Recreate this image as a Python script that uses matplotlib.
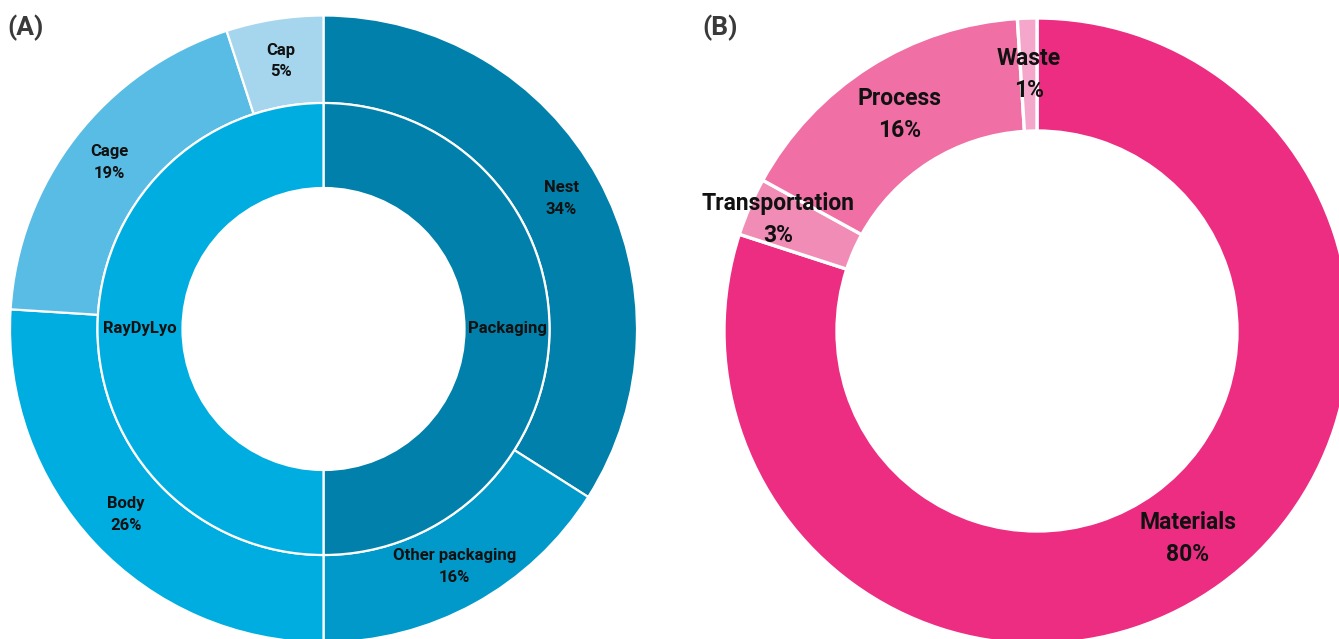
import matplotlib.pyplot as plt
import numpy as np

plt.rcParams['font.family'] = ['Roboto', 'DejaVu Sans']

# (A) inner and outer rings
inner_labels = ['Packaging', 'RayDyLyo']
inner_values = [50, 50]
inner_colors = ['#0080aa', '#00ade0']

outer_labels = ['Nest', 'Other packaging', 'Body', 'Cage', 'Cap']
outer_values = [34, 16, 26, 19, 5]
outer_colors = ['#0080aa', '#0099c9', '#00ade0', '#58bce5', '#a6d6ee']

# (B) single ring
b_labels = ['Materials', 'Transportation', 'Process', 'Waste']
b_values = [80, 3, 16, 1]
b_colors = ['#ec2d82', '#f18cb6', '#f06fa5', '#f4a7ca']

W, H = 1339, 639
fig = plt.figure(figsize=(W / 100, H / 100), dpi=100)


def add_axes_px(cx, cy, r):
    # axes sized so that radius 1 == r pixels, centre at (cx, cy) from top-left
    ax = fig.add_axes([(cx - r) / W, (H - cy - r) / H, 2 * r / W, 2 * r / H])
    ax.set_xlim(-1, 1)
    ax.set_ylim(-1, 1)
    ax.set_aspect('equal')
    ax.axis('off')
    return ax


def mid_angles(values):
    cum = np.cumsum([0] + list(values)) / np.sum(values)
    mids = (cum[:-1] + cum[1:]) / 2
    return np.deg2rad(90 - mids * 360)


# ---------------- (A) ----------------
axA = add_axes_px(323.5, 329, 313.5)
r_out, r_mid, r_in = 1.0, 226 / 313.5, 141 / 313.5

axA.pie(outer_values, radius=r_out, colors=outer_colors, startangle=90,
        counterclock=False,
        wedgeprops=dict(width=r_out - r_mid, edgecolor='white', linewidth=1.6))
axA.pie(inner_values, radius=r_mid, colors=inner_colors, startangle=90,
        counterclock=False,
        wedgeprops=dict(width=r_mid - r_in, edgecolor='white', linewidth=1.6))
axA.set_xlim(-1, 1)
axA.set_ylim(-1, 1)

rA = 0.865
for lab, val, a in zip(outer_labels, outer_values, mid_angles(outer_values)):
    axA.text(rA * np.cos(a), rA * np.sin(a), f'{lab}\n{val}%', ha='center',
             va='center', fontsize=12, fontweight='bold', color='#111111',
             linespacing=1.55)

rI = (r_mid + r_in) / 2
for lab, a in zip(inner_labels, mid_angles(inner_values)):
    axA.text(rI * np.cos(a), rI * np.sin(a), lab, ha='center', va='center',
             fontsize=12, fontweight='bold', color='#111111')

# ---------------- (B) ----------------
axB = add_axes_px(1037, 331, 313)
rb_in = 200 / 313
axB.pie(b_values, radius=1.0, colors=b_colors, startangle=90,
        counterclock=False,
        wedgeprops=dict(width=1.0 - rb_in, edgecolor='white', linewidth=2.4))
axB.set_xlim(-1, 1)
axB.set_ylim(-1, 1)

rB = [0.82, 0.90, 0.82, 0.82]
for lab, val, a, rr in zip(b_labels, b_values, mid_angles(b_values), rB):
    axB.text(rr * np.cos(a), rr * np.sin(a), f'{lab}\n{val}%', ha='center',
             va='center', fontsize=16.5, fontweight='bold', color='#111111',
             linespacing=1.5)

# panel letters
fig.text(7 / W, 1 - 28 / H, '(A)', fontsize=19, fontweight='bold',
         color='#3a3a3a', va='center', ha='left')
fig.text(702 / W, 1 - 28 / H, '(B)', fontsize=19, fontweight='bold',
         color='#3a3a3a', va='center', ha='left')

fig.savefig('out.png', dpi=100)
